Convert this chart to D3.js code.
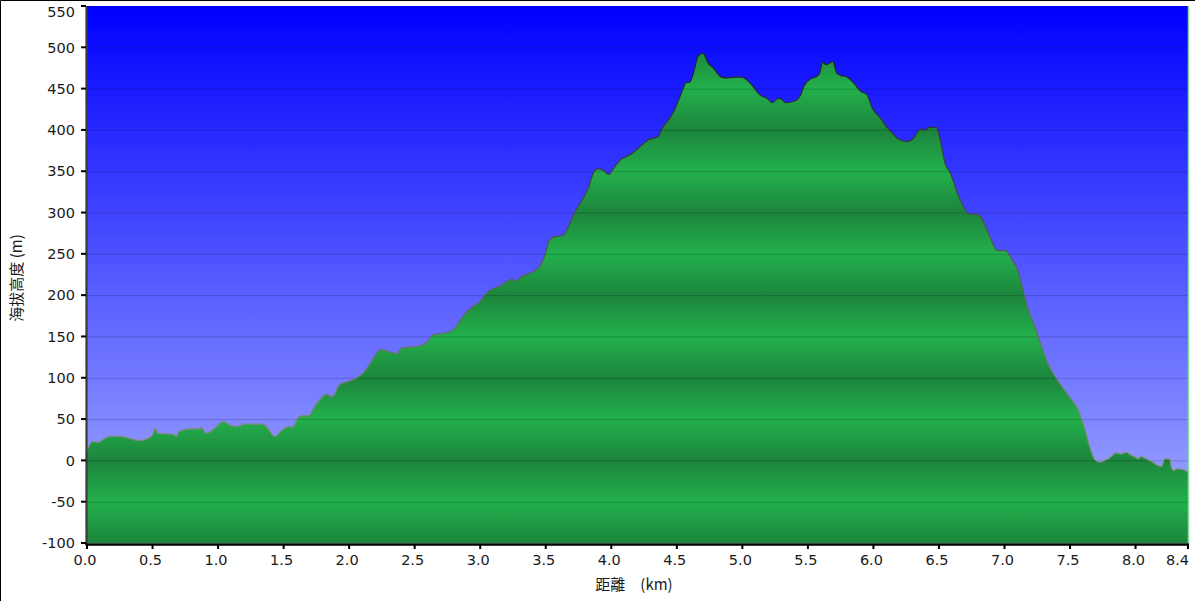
<!DOCTYPE html>
<html>
<head>
    <meta charset="utf-8">
    <script src="https://d3js.org/d3.v7.min.js"></script>
    <title>Elevation profile</title>
    <style>
        body {
            margin: 0px;
            background-color: #fff;
        }
        .tick-label {
            fill: #1a1a1a;
            font-size: 14.5px;
            font-family: "DejaVu Sans", Verdana, sans-serif;
        }
        .axis-label {
            fill: #1a1a1a;
            font-size: 15px;
            font-family: "Noto Sans CJK TC", "DejaVu Sans", sans-serif;
            white-space: pre;
        }
    </style>
</head>
<body>
<svg width="1195" height="601"></svg>
<script>
    // distance along the track (km) and elevation (m)
    const distKm = [0, 0.04, 0.08, 0.17, 0.25, 0.32, 0.39, 0.47, 0.5, 0.52, 0.54, 0.67, 0.68, 0.7,
        0.78, 0.86, 0.87, 0.91, 0.96, 1.04, 1.1, 1.15, 1.2, 1.34, 1.38, 1.43, 1.49, 1.54, 1.57, 1.61,
        1.65, 1.69, 1.74, 1.83, 1.87, 1.93, 2.0, 2.06, 2.12, 2.17, 2.24, 2.3, 2.36, 2.4, 2.52, 2.6,
        2.64, 2.73, 2.8, 2.87, 2.95, 2.99, 3.05, 3.15, 3.24, 3.27, 3.31, 3.37, 3.45, 3.49, 3.53, 3.57,
        3.63, 3.67, 3.72, 3.78, 3.82, 3.87, 3.9, 3.94, 3.98, 4.02, 4.07, 4.12, 4.17, 4.22, 4.28, 4.36,
        4.38, 4.44, 4.49, 4.53, 4.57, 4.6, 4.64, 4.66, 4.7, 4.74, 4.78, 4.84, 4.89, 4.95, 5.0, 5.03,
        5.08, 5.13, 5.19, 5.23, 5.27, 5.29, 5.33, 5.4, 5.44, 5.47, 5.52, 5.56, 5.59, 5.61, 5.64, 5.69,
        5.72, 5.75, 5.8, 5.86, 5.9, 5.95, 5.99, 6.06, 6.1, 6.14, 6.19, 6.26, 6.3, 6.36, 6.39, 6.43,
        6.48, 6.51, 6.55, 6.58, 6.66, 6.73, 6.79, 6.83, 6.89, 6.95, 7.01, 7.06, 7.1, 7.14, 7.18, 7.23,
        7.27, 7.33, 7.41, 7.49, 7.56, 7.61, 7.65, 7.69, 7.73, 7.76, 7.8, 7.85, 7.89, 7.93, 7.96, 8.0,
        8.02, 8.04, 8.08, 8.12, 8.17, 8.2, 8.22, 8.26, 8.275, 8.29, 8.32, 8.36, 8.4];
    const elevM = [12, 23, 22, 29, 29, 27, 24, 27, 31, 39, 33, 31, 29, 35,
        38, 38, 40, 33, 37, 47, 42, 41, 44, 44, 39, 29, 37, 41, 40, 52,
        54, 54, 66, 80, 77, 92, 96, 100, 108, 120, 134, 132, 129, 136, 138, 144,
        152, 154, 159, 175, 187, 191, 203, 211, 219, 217, 222, 226, 234, 247, 267, 271,
        272, 282, 300, 316, 328, 350, 353, 351, 346, 354, 364, 368, 373, 380, 388, 392,
        400, 413, 427, 443, 457, 458, 477, 489, 493, 481, 475, 464, 463, 464, 464, 461,
        453, 443, 438, 433, 438, 438, 433, 435, 441, 453, 462, 464, 469, 482, 479, 483,
        469, 466, 464, 455, 447, 443, 427, 413, 404, 397, 389, 386, 389, 401, 400, 403,
        403, 388, 358, 350, 316, 298, 298, 292, 270, 254, 254, 242, 231, 207, 183, 163,
        144, 118, 96, 78, 62, 40, 17, 1, -2, 0, 3, 9, 8, 10, 7, 4,
        2, 5, 2, -1, -6, -7, 2, 2, -9, -12, -10, -11, -14];
    const yTickValues = [-100, -50, 0, 50, 100, 150, 200, 250, 300, 350, 400, 450, 500, 550];
    const xTickValues = [0, 0.5, 1, 1.5, 2, 2.5, 3, 3.5, 4, 4.5, 5, 5.5, 6, 6.5, 7, 7.5, 8, 8.4];
    const yLabel = '海拔高度 (m)';
    const xLabel = '距離　(km)';

    const svg = d3.select('svg');
    const plotLeft = 87, plotRight = 1188, plotTop = 6, plotBottom = 543;

    const xScale = d3.scaleLinear().domain([0, 8.4]).range([plotLeft, plotRight]);
    const yScale = d3.scaleLinear().domain([-100, 550]).range([plotBottom, plotTop]);

    const defs = svg.append('defs');
    const sky = defs.append('linearGradient')
        .attr('id', 'sky')
        .attr('gradientUnits', 'userSpaceOnUse')
        .attr('x1', 0).attr('x2', 0)
        .attr('y1', plotTop).attr('y2', plotBottom);
    sky.append('stop').attr('offset', 0).attr('stop-color', '#0000ff');
    sky.append('stop').attr('offset', 1).attr('stop-color', '#a6b0ff');

    // green bands: dark on every 100 m line, light half way between
    const band = defs.append('linearGradient')
        .attr('id', 'band')
        .attr('gradientUnits', 'userSpaceOnUse')
        .attr('spreadMethod', 'repeat')
        .attr('x1', 0).attr('x2', 0)
        .attr('y1', yScale(0)).attr('y2', yScale(100));
    band.append('stop').attr('offset', 0).attr('stop-color', '#1c853c');
    band.append('stop').attr('offset', 0.5).attr('stop-color', '#23b04c');
    band.append('stop').attr('offset', 1).attr('stop-color', '#1c853c');

    const edge = defs.append('linearGradient')
        .attr('id', 'edge')
        .attr('gradientUnits', 'userSpaceOnUse')
        .attr('x1', 0).attr('x2', 0)
        .attr('y1', plotTop).attr('y2', plotBottom);
    edge.append('stop').attr('offset', 0).attr('stop-color', '#111820');
    edge.append('stop').attr('offset', 1).attr('stop-color', '#9aa89c');

    svg.append('rect')
        .attr('x', plotLeft).attr('y', plotTop)
        .attr('width', plotRight - plotLeft).attr('height', plotBottom - plotTop)
        .attr('fill', 'url(#sky)');

    const points = distKm.map((d, i) => ({ d: d, e: elevM[i] }));

    const area = d3.area()
        .x(p => xScale(p.d))
        .y0(yScale(-100))
        .y1(p => yScale(p.e))
        .curve(d3.curveMonotoneX);
    const line = d3.line()
        .x(p => xScale(p.d))
        .y(p => yScale(p.e))
        .curve(d3.curveMonotoneX);

    svg.append('path')
        .attr('fill', 'url(#band)')
        .attr('d', area(points));

    // horizontal grid lines drawn over the fill
    svg.append('g')
        .selectAll('line')
        .data(yTickValues.filter(v => v > -100 && v < 550))
        .join('line')
        .attr('x1', plotLeft).attr('x2', plotRight)
        .attr('y1', d => yScale(d) + 0.5).attr('y2', d => yScale(d) + 0.5)
        .attr('stroke', 'rgba(0,0,30,0.2)')
        .attr('stroke-width', 1);

    svg.append('path')
        .attr('fill', 'none')
        .attr('stroke', 'url(#edge)')
        .attr('stroke-width', 1.3)
        .attr('d', line(points));

    // right border of the plot
    svg.append('line')
        .attr('x1', plotRight + 0.5).attr('x2', plotRight + 0.5)
        .attr('y1', plotTop).attr('y2', plotBottom)
        .attr('stroke', '#86dca0')
        .attr('stroke-width', 1.5);

    // y axis
    const yAxisG = svg.append('g');
    yAxisG.append('line')
        .attr('x1', plotLeft - 0.5).attr('x2', plotLeft - 0.5)
        .attr('y1', plotTop).attr('y2', plotBottom + 2)
        .attr('stroke', '#3a3a3a')
        .attr('stroke-width', 2.2);
    yAxisG.selectAll('.ytick')
        .data(yTickValues)
        .join('line')
        .attr('class', 'ytick')
        .attr('x1', plotLeft - 6).attr('x2', plotLeft - 1)
        .attr('y1', d => yScale(d)).attr('y2', d => yScale(d))
        .attr('stroke', '#000')
        .attr('stroke-width', 2);
    yAxisG.selectAll('text')
        .data(yTickValues)
        .join('text')
        .attr('class', 'tick-label')
        .attr('x', plotLeft - 12)
        .attr('y', d => Math.max(yScale(d), plotTop + 5.5))
        .attr('dy', '0.36em')
        .attr('text-anchor', 'end')
        .text(d => d);

    // x axis
    const xAxisG = svg.append('g');
    xAxisG.append('line')
        .attr('x1', plotLeft - 1.5).attr('x2', plotRight + 1)
        .attr('y1', plotBottom + 1.5).attr('y2', plotBottom + 1.5)
        .attr('stroke', '#000')
        .attr('stroke-width', 2.6);
    xAxisG.selectAll('.xtick')
        .data(xTickValues)
        .join('line')
        .attr('class', 'xtick')
        .attr('x1', d => xScale(d)).attr('x2', d => xScale(d))
        .attr('y1', plotBottom + 2).attr('y2', plotBottom + 6)
        .attr('stroke', '#000')
        .attr('stroke-width', 2);
    xAxisG.selectAll('text')
        .data(xTickValues)
        .join('text')
        .attr('class', 'tick-label')
        .attr('x', (d, i) => i === xTickValues.length - 1 ? xScale(d) + 1 : xScale(d) - 2)
        .attr('y', 565)
        .attr('text-anchor', (d, i) => i === xTickValues.length - 1 ? 'end' : 'middle')
        .text(d => d.toFixed(1));

    svg.append('text')
        .attr('class', 'axis-label')
        .attr('x', 634)
        .attr('y', 590)
        .attr('text-anchor', 'middle')
        .text(xLabel);
    svg.append('text')
        .attr('class', 'axis-label')
        .attr('transform', 'translate(22,278) rotate(-90)')
        .attr('text-anchor', 'middle')
        .text(yLabel);

    // thin frame on the left and top edges of the picture
    svg.append('path')
        .attr('fill', 'none')
        .attr('stroke', '#000')
        .attr('stroke-width', 1)
        .attr('d', 'M0.5,601V0.5H1195');
</script>
</body>
</html>
